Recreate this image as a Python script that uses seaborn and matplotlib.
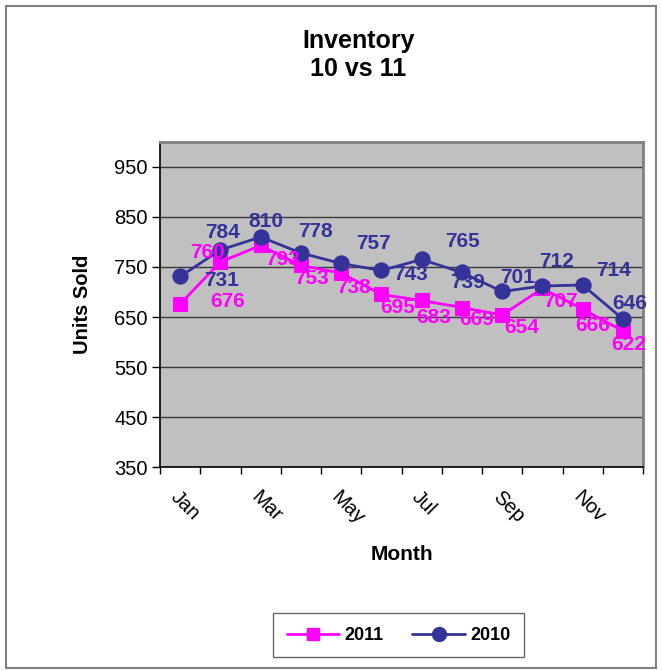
import matplotlib
matplotlib.use('Agg')
import matplotlib.pyplot as plt
import matplotlib.patches as mpatches
import seaborn as sns
import pandas as pd

# data
months = ["Jan", "Feb", "Mar", "Apr", "May", "Jun",
          "Jul", "Aug", "Sep", "Oct", "Nov", "Dec"]
units_2011 = [676, 760, 793, 753, 738, 695, 683, 669, 654, 707, 666, 622]
units_2010 = [731, 784, 810, 778, 757, 743, 765, 739, 701, 712, 714, 646]

# label offsets in pixels (dx, dy) so the labels sit as in the original
off_2011 = [(47, 2), (-13, 9), (22, -14), (11, -13), (12, -15), (16, -13),
            (12, -17), (15, -12), (20, -12), (18, -13), (10, -16), (6, -13)]
off_2010 = [(41, -4), (2, 17), (5, 15), (15, 21), (32, 20), (29, -4),
            (41, 18), (6, -10), (15, 14), (14, 24), (31, 14), (7, 16)]

MAGENTA = "#FF00FF"
NAVY = "#333399"

sns.set_theme(style="white")
plt.rcParams['font.family'] = ['Liberation Sans', 'DejaVu Sans']
plt.rcParams['text.color'] = 'black'
plt.rcParams['axes.labelcolor'] = 'black'
plt.rcParams['xtick.color'] = 'black'
plt.rcParams['ytick.color'] = 'black'

df = pd.DataFrame({"pos": list(range(len(months))),
                   "y2011": units_2011, "y2010": units_2010})

fig = plt.figure(figsize=(6.62, 6.71), dpi=100)
ax = fig.add_axes([0.2417, 0.304, 0.7296, 0.4844])
ax.set_facecolor("#C0C0C0")

for v in range(350, 1000, 100):
    ax.axhline(v, color="#3a3a3a", lw=1.0, zorder=1)

sns.lineplot(data=df, x="pos", y="y2011", ax=ax, color=MAGENTA, lw=2,
             marker="s", markersize=10, markeredgecolor=MAGENTA,
             label="2011", zorder=3, legend=False)
sns.lineplot(data=df, x="pos", y="y2010", ax=ax, color=NAVY, lw=2,
             marker="o", markersize=11, markeredgecolor=NAVY,
             label="2010", zorder=4, legend=False)

for i, (v, (dx, dy)) in enumerate(zip(units_2011, off_2011)):
    ax.annotate(str(v), (i, v), xytext=(dx, dy), textcoords="offset pixels",
                ha="center", va="center", color=MAGENTA, fontsize=15,
                fontweight="bold", zorder=5)
for i, (v, (dx, dy)) in enumerate(zip(units_2010, off_2010)):
    ax.annotate(str(v), (i, v), xytext=(dx, dy), textcoords="offset pixels",
                ha="center", va="center", color=NAVY, fontsize=15,
                fontweight="bold", zorder=5)

ax.set_xlim(-0.5, 11.5)
ax.set_ylim(350, 1000)
ax.set_yticks(range(350, 1000, 100))
ax.set_xticks(range(0, 12, 2))
ax.set_xticklabels(months[::2], rotation=-45, ha="left", va="top",
                   rotation_mode="anchor", fontsize=14.5)
ax.set_xticks([i - 0.5 for i in range(13)], minor=True)
ax.tick_params(axis="x", which="major", length=0, pad=15)
ax.tick_params(axis="x", which="minor", length=5, width=1, color="black",
               direction="out", bottom=True)
ax.tick_params(axis="y", length=6, width=1, color="black", direction="out",
               left=True, labelsize=14.5, pad=3)

for side in ["top", "right"]:
    ax.spines[side].set_color("#808080")
    ax.spines[side].set_linewidth(2)
for side in ["left", "bottom"]:
    ax.spines[side].set_color("black")
    ax.spines[side].set_linewidth(1.2)

ax.set_xlabel("Month", fontsize=15, fontweight="bold", labelpad=12)
ax.set_ylabel("Units Sold", fontsize=14.5, fontweight="bold", labelpad=16)

fig.text(0.541, 0.918, "Inventory\n10 vs 11", ha="center", va="center",
         fontsize=18, fontweight="bold", linespacing=1.22)

handles = [plt.Line2D([], [], color=MAGENTA, lw=2, marker="s", markersize=9),
           plt.Line2D([], [], color=NAVY, lw=2, marker="o", markersize=10)]
leg = fig.legend(handles, ["2011", "2010"], loc="center",
                 bbox_to_anchor=(0.602, 0.053), ncol=2, frameon=True,
                 fancybox=False, edgecolor="#404040", handlelength=2.9,
                 borderpad=0.75, handletextpad=0.3, columnspacing=1.6,
                 prop={"weight": "bold", "size": 13})
leg.get_frame().set_linewidth(1)

fig.patches.append(mpatches.Rectangle((0.009, 0.005), 0.982, 0.986,
                                      transform=fig.transFigure, fill=False,
                                      edgecolor="#808080", lw=1.5))

fig.savefig("out.png", dpi=100)
